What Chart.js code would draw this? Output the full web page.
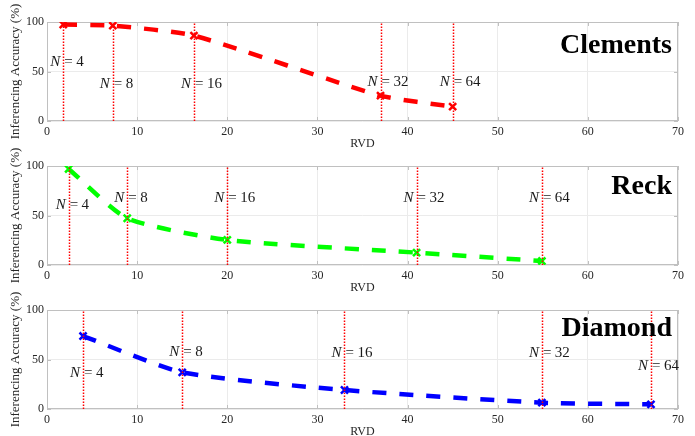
<!DOCTYPE html>
<html>
<head>
<meta charset="utf-8">
<title>RVD vs inferencing accuracy</title>
<script src="https://cdn.jsdelivr.net/npm/chart.js@4.4.0/dist/chart.umd.min.js"></script>
<style>
  body { margin: 0; width: 695px; height: 436px; overflow: hidden; background: #fff; position: relative; }
  .panel { position: absolute; left: 0; width: 695px; height: 150px; }
</style>
</head>
<body>
<div class="panel" style="top:1px"><canvas id="clements" width="695" height="150"></canvas></div>
<div class="panel" style="top:145px"><canvas id="reck" width="695" height="150"></canvas></div>
<div class="panel" style="top:289px"><canvas id="diamond" width="695" height="150"></canvas></div>

<script>
// mesh sizes, one marker per size
const nValues = [4, 8, 16, 32, 64];
const rvdTicks = [0, 10, 20, 30, 40, 50, 60, 70];
const accTicks = [0, 50, 100];

const clementsRvd = [1.8, 7.3, 16.3, 37.0, 45.0];
const clementsAcc = [97.5, 96.3, 86.2, 25.6, 14.5];
const clementsLabelAcc = [60, 37, 37, 39, 39];

const reckRvd = [2.4, 8.9, 20.0, 41.0, 54.9];
const reckAcc = [97.0, 47.2, 25.3, 12.5, 4.0];
const reckLabelAcc = [60.6, 67.5, 67.5, 67.5, 67.5];

const diamondRvd = [4.0, 15.0, 33.0, 54.9, 67.0];
const diamondAcc = [73.7, 37.0, 19.2, 6.4, 4.7];
const diamondLabelAcc = [36, 58, 57, 57, 43];

const serif = '"Liberation Serif", "Times New Roman", serif';
const axisGray = "#c0c0c0";

// box around the plot area with small inward ticks
const framePlugin = {
  id: "frame",
  beforeDatasetsDraw(chart) {
    const { ctx, chartArea: a, scales: { x, y } } = chart;
    ctx.save();
    ctx.strokeStyle = axisGray;
    ctx.lineWidth = 1;
    ctx.strokeRect(a.left + 0.5, a.top + 0.5, a.right - a.left - 1, a.bottom - a.top - 1);
    ctx.beginPath();
    rvdTicks.forEach((v) => {
      const px = Math.round(x.getPixelForValue(v)) + 0.5;
      ctx.moveTo(px, a.bottom); ctx.lineTo(px, a.bottom - 4);
      ctx.moveTo(px, a.top); ctx.lineTo(px, a.top + 4);
    });
    accTicks.forEach((v) => {
      const py = Math.round(y.getPixelForValue(v)) + 0.5;
      ctx.moveTo(a.left, py); ctx.lineTo(a.left + 4, py);
      ctx.moveTo(a.right, py); ctx.lineTo(a.right - 4, py);
    });
    ctx.stroke();
    ctx.restore();
  },
};

// N = ... labels and the red dotted guide lines
const markerPlugin = {
  id: "nMarkers",
  afterDatasetsDraw(chart, args, opts) {
    const { ctx, scales: { x, y } } = chart;
    ctx.save();
    ctx.textBaseline = "middle";
    ctx.fillStyle = "#1a1a1a";
    opts.rvd.forEach((v, i) => {
      const px = x.getPixelForValue(v);
      const py = y.getPixelForValue(opts.labelAcc[i]);
      // italic N left of the guide line, "=" just right of it
      ctx.font = "italic 15px " + serif;
      ctx.textAlign = "right";
      ctx.fillText("N", px - 3, py);
      ctx.font = "15px " + serif;
      ctx.textAlign = "left";
      const wEq = ctx.measureText("=").width;
      ctx.fillText("=", px + 1, py);
      ctx.fillText(String(nValues[i]), px + 1 + wEq + 3.5, py);
    });
    ctx.strokeStyle = "#ff0000";
    ctx.lineWidth = 1.5;
    ctx.setLineDash([1.5, 1.5]);
    opts.rvd.forEach((v) => {
      const px = Math.round(x.getPixelForValue(v)) + 0.5;
      ctx.beginPath();
      ctx.moveTo(px, y.getPixelForValue(0));
      ctx.lineTo(px, y.getPixelForValue(100));
      ctx.stroke();
    });
    ctx.restore();
  },
};

// bold panel name in the upper right corner
const namePlugin = {
  id: "panelName",
  afterDraw(chart, args, opts) {
    const { ctx, chartArea: a } = chart;
    ctx.save();
    ctx.font = "bold 28px " + serif;
    ctx.fillStyle = "#000";
    ctx.textAlign = "right";
    ctx.textBaseline = "alphabetic";
    ctx.fillText(opts.text, a.right - 6, a.top + opts.baseline);
    ctx.restore();
  },
};

function makePanel(id, name, baseline, rvd, acc, labelAcc, color) {
  const ctx = document.getElementById(id).getContext("2d");
  return new Chart(ctx, {
    type: "line",
    data: {
      datasets: [
        {
          data: rvd.map((v, i) => ({ x: v, y: acc[i] })),
          borderColor: color,
          backgroundColor: color,
          borderWidth: 4.5,
          borderDash: [14, 13],
          borderCapStyle: "butt",
          tension: 0.2,
          pointStyle: "crossRot",
          pointRadius: 5,
          pointBorderWidth: 2.5,
          pointBorderColor: color,
          fill: false,
        },
      ],
    },
    options: {
      responsive: false,
      animation: false,
      devicePixelRatio: 1,
      layout: { padding: { top: 21, right: 17, bottom: 0, left: 0 } },
      plugins: {
        legend: { display: false },
        tooltip: { enabled: false },
        nMarkers: { rvd: rvd, labelAcc: labelAcc },
        panelName: { text: name, baseline: baseline },
      },
      scales: {
        x: {
          type: "linear",
          min: 0,
          max: 70,
          afterBuildTicks: (s) => { s.ticks = rvdTicks.map((v) => ({ value: v })); },
          afterFit: (s) => { s.height = 30; },
          grid: { color: "#ebebeb", drawTicks: false },
          border: { display: false },
          ticks: { color: "#262626", font: { family: serif, size: 12 }, padding: 4, maxRotation: 0 },
          title: { display: true, text: "RVD", color: "#262626", font: { family: serif, size: 12 }, padding: 0 },
        },
        y: {
          type: "linear",
          min: 0,
          max: 100,
          afterBuildTicks: (s) => { s.ticks = accTicks.map((v) => ({ value: v })); },
          afterFit: (s) => { s.width = 47; },
          grid: { color: "#ebebeb", drawTicks: false },
          border: { display: false },
          ticks: { color: "#262626", font: { family: serif, size: 12 }, padding: 3 },
          title: {
            display: true,
            text: "Inferencing Accuracy (%)",
            color: "#262626",
            font: { family: serif, size: 13 },
            padding: { top: 8, bottom: 0 },
          },
        },
      },
    },
    plugins: [framePlugin, markerPlugin, namePlugin],
  });
}

makePanel("clements", "Clements", 31, clementsRvd, clementsAcc, clementsLabelAcc, "#ff0000");
makePanel("reck", "Reck", 28, reckRvd, reckAcc, reckLabelAcc, "#00ff00");
makePanel("diamond", "Diamond", 26, diamondRvd, diamondAcc, diamondLabelAcc, "#0000ff");
</script>
</body>
</html>
